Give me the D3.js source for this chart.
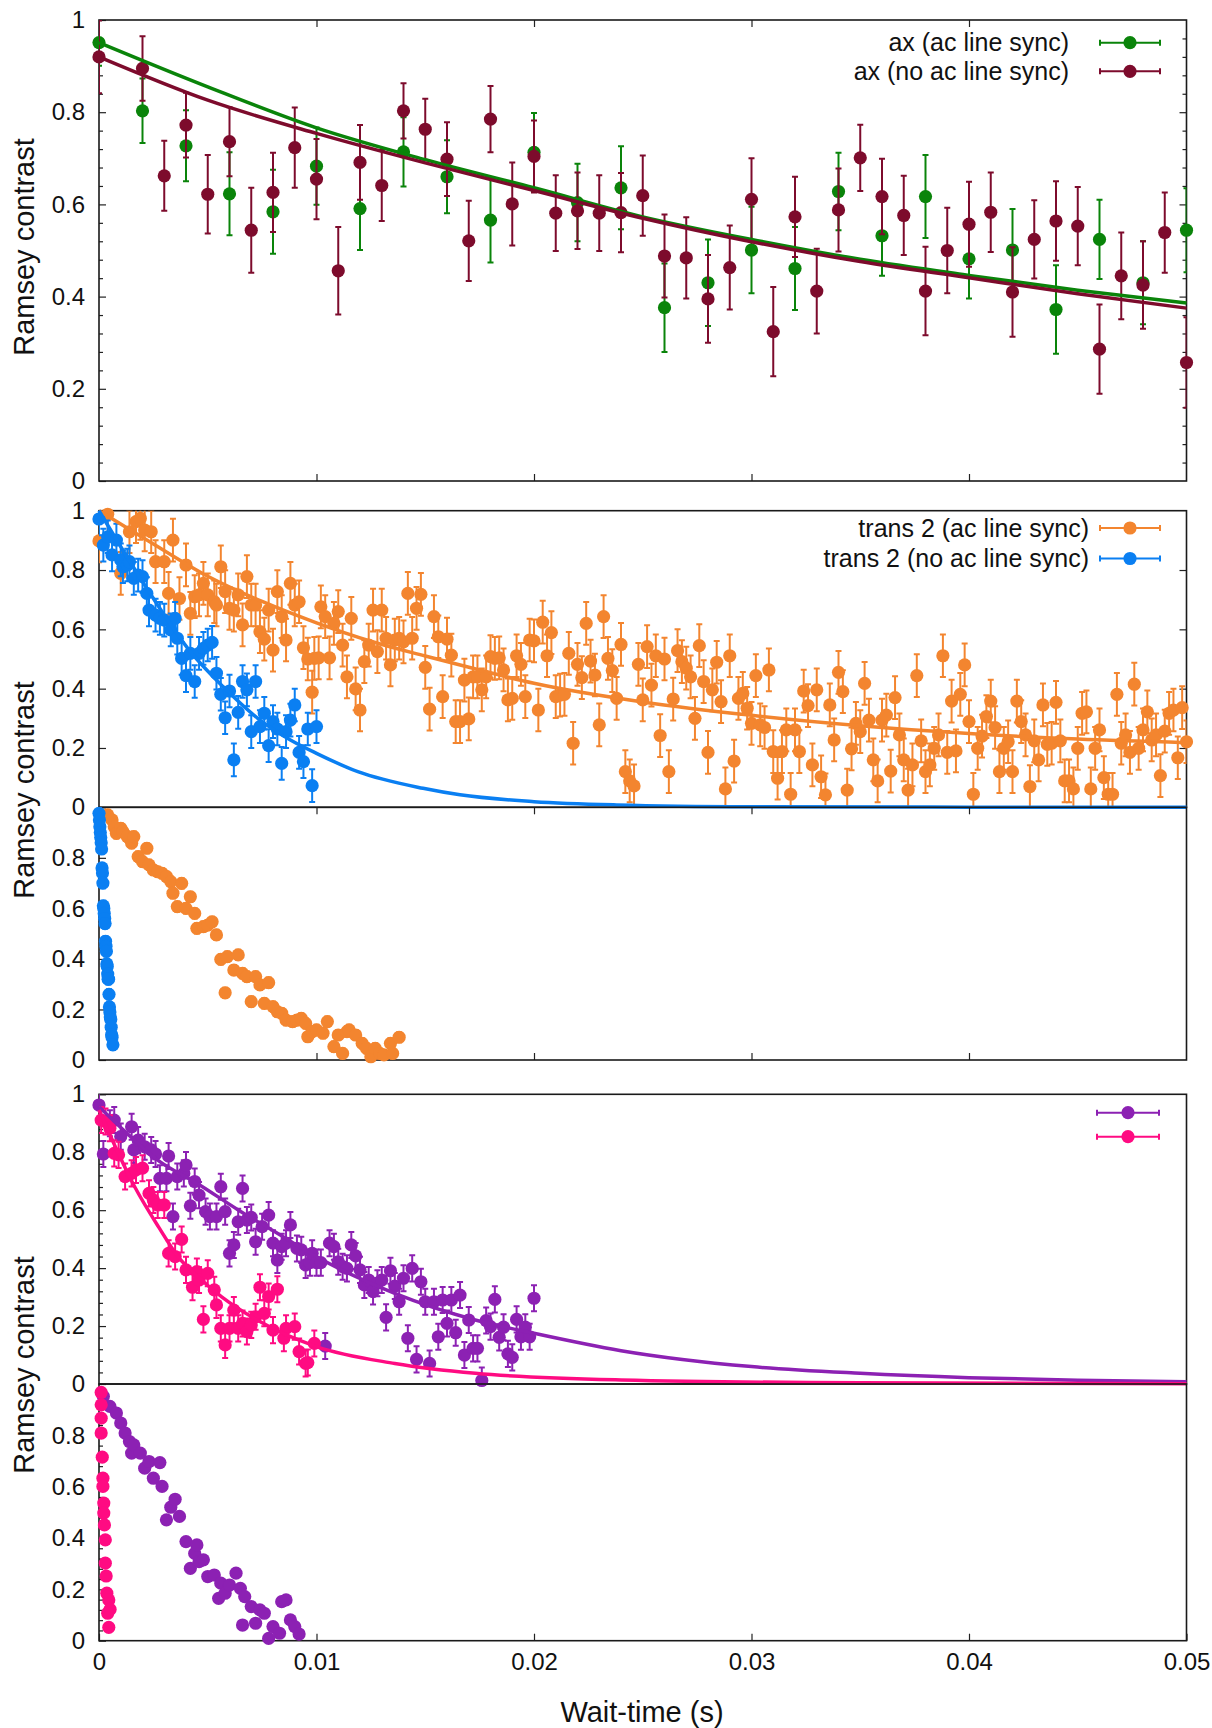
<!DOCTYPE html>
<html>
<head>
<meta charset="utf-8">
<script src="https://cdn.jsdelivr.net/npm/d3@7"></script>
<style>
  body { margin: 0; background: #fff; }
  text { font-family: "Liberation Sans", Arial, sans-serif; fill: #111; }
</style>
</head>
<body>
<svg id="chart"></svg>
<script>
// ---- axis ticks ----
const xTicks = [0, 0.01, 0.02, 0.03, 0.04, 0.05];
const yTicksFull = [0, 0.2, 0.4, 0.6, 0.8, 1];
const yTicksLower = [0, 0.2, 0.4, 0.6, 0.8];

// ---- panel 1: axial mode, [t, contrast, error] ----
const axSync = [[0,0.951,0.05],[0.002,0.803,0.07],[0.004,0.727,0.077],[0.006,0.623,0.09],[0.008,0.584,0.091],[0.010,0.683,0.084],[0.012,0.591,0.09],[0.014,0.714,0.075],[0.016,0.660,0.079],[0.018,0.566,0.092],[0.020,0.713,0.085],[0.022,0.604,0.084],[0.024,0.636,0.09],[0.026,0.376,0.096],[0.028,0.430,0.094],[0.030,0.501,0.094],[0.032,0.461,0.09],[0.034,0.628,0.084],[0.036,0.532,0.087],[0.038,0.617,0.09],[0.040,0.482,0.086],[0.042,0.501,0.089],[0.044,0.372,0.096],[0.046,0.524,0.086],[0.048,0.430,0.09],[0.050,0.544,0.091]];
const axNoSync = [[0,0.920,0.079],[0.002,0.895,0.07],[0.003,0.662,0.076],[0.004,0.772,0.07],[0.005,0.622,0.085],[0.006,0.736,0.075],[0.007,0.544,0.092],[0.008,0.626,0.086],[0.009,0.723,0.087],[0.010,0.655,0.087],[0.011,0.456,0.095],[0.012,0.691,0.081],[0.013,0.641,0.077],[0.014,0.803,0.06],[0.015,0.763,0.066],[0.016,0.698,0.08],[0.017,0.521,0.087],[0.018,0.785,0.072],[0.019,0.601,0.09],[0.020,0.704,0.078],[0.021,0.581,0.082],[0.022,0.586,0.083],[0.023,0.581,0.082],[0.024,0.582,0.086],[0.025,0.619,0.087],[0.026,0.488,0.09],[0.027,0.484,0.088],[0.028,0.395,0.095],[0.029,0.463,0.091],[0.030,0.611,0.089],[0.031,0.324,0.097],[0.032,0.573,0.087],[0.033,0.412,0.092],[0.034,0.588,0.09],[0.035,0.701,0.072],[0.036,0.617,0.082],[0.037,0.576,0.086],[0.038,0.412,0.096],[0.039,0.500,0.093],[0.040,0.557,0.092],[0.041,0.583,0.086],[0.042,0.410,0.097],[0.043,0.524,0.085],[0.044,0.564,0.086],[0.045,0.553,0.085],[0.046,0.286,0.097],[0.047,0.445,0.094],[0.048,0.425,0.095],[0.049,0.539,0.087],[0.050,0.257,0.098]];
const fitAxSync = [[0,0.951],[0.005,0.855],[0.01,0.766],[0.015,0.697],[0.02,0.636],[0.025,0.573],[0.03,0.524],[0.035,0.481],[0.04,0.446],[0.045,0.414],[0.05,0.386]];
const fitAxNoSync = [[0,0.920],[0.005,0.826],[0.01,0.754],[0.015,0.690],[0.02,0.630],[0.025,0.570],[0.03,0.519],[0.035,0.476],[0.04,0.441],[0.045,0.406],[0.05,0.375]];

// ---- panel 2: trans 2, [t, contrast] ----
const trSync = [[0.0000,0.898],[0.0004,0.988],[0.0010,0.789],[0.0014,0.929],[0.0017,0.963],[0.0019,0.974],[0.0021,0.935],[0.0024,0.929],[0.0026,0.828],[0.0030,0.828],[0.0032,0.721],[0.0034,0.901],[0.0037,0.704],[0.0040,0.817],[0.0042,0.654],[0.0044,0.710],[0.0046,0.716],[0.0048,0.755],[0.0050,0.716],[0.0053,0.693],[0.0054,0.682],[0.0056,0.811],[0.0058,0.727],[0.0060,0.671],[0.0062,0.665],[0.0064,0.716],[0.0066,0.615],[0.0068,0.778],[0.0070,0.682],[0.0072,0.682],[0.0074,0.592],[0.0076,0.567],[0.0078,0.665],[0.0080,0.530],[0.0082,0.727],[0.0084,0.643],[0.0086,0.564],[0.0088,0.755],[0.0090,0.682],[0.0092,0.693],[0.0094,0.538],[0.0096,0.500],[0.0098,0.388],[0.0099,0.502],[0.0101,0.504],[0.0102,0.676],[0.0104,0.643],[0.0106,0.504],[0.0108,0.620],[0.0110,0.660],[0.0112,0.547],[0.0114,0.440],[0.0116,0.637],[0.0118,0.399],[0.0120,0.328],[0.0122,0.491],[0.0124,0.547],[0.0126,0.665],[0.0128,0.525],[0.0130,0.665],[0.0132,0.570],[0.0134,0.480],[0.0136,0.564],[0.0138,0.570],[0.0140,0.558],[0.0142,0.721],[0.0144,0.570],[0.0146,0.671],[0.0148,0.718],[0.0150,0.472],[0.0152,0.331],[0.0154,0.643],[0.0156,0.575],[0.0158,0.373],[0.0160,0.567],[0.0162,0.513],[0.0164,0.289],[0.0166,0.289],[0.0168,0.429],[0.0170,0.298],[0.0172,0.440],[0.0174,0.440],[0.0176,0.396],[0.0178,0.440],[0.0180,0.508],[0.0182,0.502],[0.0184,0.504],[0.0186,0.463],[0.0188,0.362],[0.0190,0.367],[0.0192,0.511],[0.0194,0.482],[0.0196,0.373],[0.0198,0.564],[0.0200,0.561],[0.0202,0.328],[0.0204,0.624],[0.0206,0.511],[0.0208,0.589],[0.0210,0.373],[0.0212,0.378],[0.0214,0.381],[0.0216,0.519],[0.0218,0.216],[0.0220,0.482],[0.0222,0.437],[0.0224,0.620],[0.0226,0.493],[0.0228,0.446],[0.0230,0.278],[0.0232,0.643],[0.0234,0.502],[0.0236,0.461],[0.0238,0.367],[0.0240,0.549],[0.0242,0.120],[0.0244,0.089],[0.0246,0.072],[0.0248,0.482],[0.0250,0.362],[0.0252,0.542],[0.0254,0.412],[0.0256,0.511],[0.0258,0.242],[0.0260,0.500],[0.0262,0.120],[0.0264,0.365],[0.0266,0.528],[0.0268,0.491],[0.0270,0.469],[0.0272,0.440],[0.0274,0.300],[0.0276,0.545],[0.0278,0.424],[0.0280,0.185],[0.0282,0.396],[0.0284,0.489],[0.0286,0.356],[0.0288,0.062],[0.0290,0.511],[0.0292,0.156],[0.0294,0.367],[0.0296,0.384],[0.0298,0.334],[0.0300,0.283],[0.0302,0.444],[0.0304,0.278],[0.0306,0.269],[0.0308,0.463],[0.0310,0.188],[0.0312,0.098],[0.0314,0.188],[0.0316,0.261],[0.0318,0.044],[0.0320,0.261],[0.0322,0.188],[0.0324,0.392],[0.0326,0.343],[0.0328,0.143],[0.0330,0.396],[0.0332,0.103],[0.0334,0.042],[0.0336,0.345],[0.0338,0.227],[0.0340,0.455],[0.0342,0.390],[0.0344,0.058],[0.0346,0.197],[0.0348,0.283],[0.0350,0.255],[0.0352,0.418],[0.0354,0.294],[0.0356,0.160],[0.0358,0.089],[0.0360,0.294],[0.0362,0.311],[0.0364,0.122],[0.0366,0.370],[0.0368,0.244],[0.0370,0.160],[0.0372,0.058],[0.0374,0.143],[0.0376,0.444],[0.0378,0.224],[0.0380,0.120],[0.0382,0.143],[0.0384,0.199],[0.0386,0.244],[0.0388,0.511],[0.0390,0.185],[0.0392,0.358],[0.0394,0.190],[0.0396,0.381],[0.0398,0.480],[0.0400,0.289],[0.0402,0.044],[0.0404,0.199],[0.0406,0.240],[0.0408,0.306],[0.0410,0.358],[0.0412,0.269],[0.0414,0.120],[0.0416,0.199],[0.0418,0.221],[0.0420,0.120],[0.0422,0.358],[0.0424,0.289],[0.0426,0.244],[0.0428,0.070],[0.0430,0.224],[0.0432,0.160],[0.0434,0.345],[0.0436,0.212],[0.0438,0.216],[0.0440,0.354],[0.0442,0.224],[0.0444,0.089],[0.0446,0.089],[0.0448,0.062],[0.0450,0.199],[0.0452,0.317],[0.0454,0.322],[0.0456,0.062],[0.0458,0.199],[0.0460,0.261],[0.0462,0.100],[0.0464,0.044],[0.0466,0.044],[0.0468,0.381],[0.0470,0.216],[0.0472,0.244],[0.0474,0.185],[0.0476,0.415],[0.0478,0.199],[0.0480,0.261],[0.0482,0.322],[0.0484,0.227],[0.0486,0.244],[0.0488,0.107],[0.0490,0.257],[0.0492,0.317],[0.0494,0.328],[0.0496,0.167],[0.0498,0.336],[0.0500,0.221]];
const trNoSync = [[0.0000,0.972],[0.0002,0.884],[0.0004,0.912],[0.0006,0.851],[0.0008,0.901],[0.0010,0.834],[0.0011,0.811],[0.0013,0.817],[0.0014,0.828],[0.0016,0.772],[0.0018,0.783],[0.0020,0.778],[0.0022,0.721],[0.0023,0.665],[0.0026,0.648],[0.0028,0.637],[0.0030,0.631],[0.0033,0.598],[0.0035,0.637],[0.0036,0.570],[0.0038,0.502],[0.0040,0.444],[0.0042,0.519],[0.0044,0.424],[0.0046,0.519],[0.0048,0.536],[0.0050,0.547],[0.0052,0.556],[0.0054,0.452],[0.0056,0.381],[0.0058,0.302],[0.0060,0.392],[0.0062,0.160],[0.0064,0.320],[0.0066,0.424],[0.0068,0.396],[0.0070,0.255],[0.0072,0.424],[0.0074,0.272],[0.0076,0.317],[0.0078,0.208],[0.0080,0.289],[0.0082,0.264],[0.0084,0.148],[0.0086,0.255],[0.0088,0.294],[0.0090,0.345],[0.0092,0.185],[0.0094,0.154],[0.0096,0.264],[0.0098,0.073],[0.0100,0.272]];
const fitTrSync = [[0,1.0],[0.0025,0.888],[0.005,0.779],[0.0075,0.694],[0.01,0.622],[0.0125,0.560],[0.015,0.510],[0.0175,0.463],[0.02,0.418],[0.025,0.355],[0.03,0.310],[0.035,0.275],[0.04,0.249],[0.045,0.230],[0.05,0.218]];
const fitTrNoSync = [[0,1.0],[0.0022,0.738],[0.0042,0.525],[0.0057,0.407],[0.0073,0.300],[0.0088,0.227],[0.01,0.182],[0.0119,0.120],[0.0149,0.064],[0.0166,0.042],[0.02,0.019],[0.0238,0.008],[0.03,0.002],[0.04,0.0005],[0.05,0.0]];

// ---- panel 3: trans 2, second data set ----
const trSyncB = [[0.0004,0.970],[0.0006,0.950],[0.0007,0.923],[0.0008,0.897],[0.0010,0.917],[0.0011,0.904],[0.0013,0.884],[0.0015,0.858],[0.0016,0.884],[0.0018,0.805],[0.0020,0.785],[0.0022,0.838],[0.0023,0.772],[0.0025,0.752],[0.0027,0.745],[0.0029,0.739],[0.0031,0.726],[0.0033,0.706],[0.0034,0.660],[0.0036,0.607],[0.0038,0.699],[0.0040,0.600],[0.0042,0.646],[0.0044,0.580],[0.0045,0.521],[0.0048,0.528],[0.0050,0.534],[0.0052,0.547],[0.0054,0.495],[0.0056,0.398],[0.0058,0.266],[0.0059,0.409],[0.0062,0.356],[0.0064,0.416],[0.0066,0.343],[0.0068,0.330],[0.0070,0.231],[0.0072,0.330],[0.0074,0.297],[0.0076,0.224],[0.0078,0.306],[0.0080,0.211],[0.0082,0.191],[0.0084,0.185],[0.0086,0.158],[0.0089,0.152],[0.0091,0.158],[0.0093,0.165],[0.0095,0.145],[0.0096,0.092],[0.0098,0.112],[0.0100,0.119],[0.0103,0.106],[0.0105,0.152],[0.0108,0.053],[0.0110,0.099],[0.0112,0.026],[0.0114,0.112],[0.0115,0.119],[0.0118,0.099],[0.0121,0.066],[0.0123,0.046],[0.0125,0.013],[0.0127,0.046],[0.0129,0.026],[0.0131,0.020],[0.0134,0.066],[0.0135,0.026],[0.0138,0.090]];
const trNoSyncB = [[0.00000,0.976],[0.00002,0.950],[0.00004,0.923],[0.00006,0.900],[0.00008,0.880],[0.00010,0.860],[0.00012,0.835],[0.00014,0.760],[0.00016,0.740],[0.00018,0.700],[0.00020,0.610],[0.00022,0.600],[0.00024,0.580],[0.00026,0.560],[0.00028,0.540],[0.00030,0.470],[0.00032,0.450],[0.00034,0.430],[0.00036,0.380],[0.00038,0.370],[0.00040,0.340],[0.00042,0.320],[0.00044,0.320],[0.00046,0.260],[0.00048,0.210],[0.00050,0.190],[0.00052,0.170],[0.00054,0.160],[0.00056,0.130],[0.00058,0.100],[0.00060,0.090],[0.00064,0.060]];

// ---- panel 4: purple / pink ----
const purple4 = [[0.0000,0.963],[0.0002,0.794],[0.0005,0.900],[0.0007,0.911],[0.0010,0.854],[0.0015,0.888],[0.0016,0.808],[0.0018,0.842],[0.0021,0.819],[0.0024,0.808],[0.0026,0.794],[0.0028,0.710],[0.0031,0.710],[0.0032,0.787],[0.0034,0.578],[0.0036,0.716],[0.0039,0.727],[0.0040,0.756],[0.0042,0.615],[0.0044,0.699],[0.0046,0.652],[0.0049,0.595],[0.0051,0.578],[0.0054,0.578],[0.0056,0.681],[0.0058,0.595],[0.0060,0.451],[0.0062,0.480],[0.0064,0.560],[0.0066,0.675],[0.0068,0.566],[0.0070,0.575],[0.0072,0.491],[0.0075,0.543],[0.0078,0.583],[0.0080,0.486],[0.0082,0.428],[0.0084,0.474],[0.0086,0.486],[0.0088,0.549],[0.0091,0.468],[0.0093,0.463],[0.0095,0.411],[0.0097,0.419],[0.0098,0.451],[0.0100,0.419],[0.0102,0.419],[0.0104,0.131],[0.0106,0.486],[0.0108,0.474],[0.0110,0.422],[0.0112,0.405],[0.0114,0.399],[0.0116,0.480],[0.0118,0.442],[0.0120,0.394],[0.0122,0.342],[0.0124,0.359],[0.0126,0.319],[0.0128,0.348],[0.0130,0.359],[0.0132,0.230],[0.0134,0.391],[0.0136,0.338],[0.0138,0.284],[0.0140,0.365],[0.0142,0.158],[0.0144,0.399],[0.0146,0.085],[0.0148,0.353],[0.0150,0.284],[0.0152,0.071],[0.0154,0.284],[0.0156,0.163],[0.0158,0.290],[0.0160,0.209],[0.0162,0.290],[0.0164,0.177],[0.0166,0.307],[0.0168,0.100],[0.0170,0.221],[0.0172,0.123],[0.0174,0.123],[0.0176,0.012],[0.0178,0.219],[0.0180,0.198],[0.0182,0.292],[0.0184,0.161],[0.0186,0.196],[0.0188,0.104],[0.0190,0.092],[0.0192,0.223],[0.0194,0.163],[0.0196,0.196],[0.0198,0.163],[0.0200,0.296]];
const pink4 = [[0.0001,0.911],[0.0003,0.906],[0.0005,0.883],[0.0007,0.796],[0.0009,0.791],[0.0012,0.716],[0.0015,0.727],[0.0017,0.739],[0.0020,0.745],[0.0023,0.658],[0.0025,0.635],[0.0027,0.618],[0.0030,0.618],[0.0032,0.451],[0.0035,0.440],[0.0038,0.499],[0.0040,0.394],[0.0043,0.334],[0.0045,0.388],[0.0046,0.359],[0.0048,0.223],[0.0050,0.382],[0.0053,0.325],[0.0054,0.273],[0.0056,0.192],[0.0058,0.135],[0.0060,0.192],[0.0062,0.255],[0.0064,0.192],[0.0066,0.209],[0.0068,0.181],[0.0070,0.204],[0.0072,0.232],[0.0074,0.334],[0.0076,0.244],[0.0078,0.302],[0.0080,0.186],[0.0082,0.327],[0.0085,0.158],[0.0086,0.192],[0.0090,0.198],[0.0092,0.112],[0.0095,0.071],[0.0096,0.074],[0.0099,0.140]];
const fitPurple = [[0,0.957],[0.00145,0.854],[0.0027,0.773],[0.0045,0.693],[0.0064,0.601],[0.0082,0.520],[0.01,0.439],[0.0136,0.313],[0.0173,0.221],[0.02,0.175],[0.024,0.115],[0.03,0.060],[0.035,0.037],[0.04,0.022],[0.045,0.013],[0.05,0.008]];
const fitPink = [[0,0.946],[0.00164,0.681],[0.00273,0.543],[0.00364,0.439],[0.00455,0.370],[0.00564,0.301],[0.00727,0.221],[0.01,0.129],[0.0136,0.071],[0.0173,0.037],[0.024,0.014],[0.035,0.004],[0.05,0.001]];

// ---- panel 5: purple / pink, second data set ----
const purple5 = [[0.0002,0.952],[0.0005,0.913],[0.0008,0.887],[0.0010,0.848],[0.0012,0.809],[0.0014,0.776],[0.0015,0.731],[0.0016,0.763],[0.0019,0.731],[0.0021,0.672],[0.0023,0.698],[0.0025,0.633],[0.0028,0.694],[0.0029,0.601],[0.0031,0.471],[0.0033,0.520],[0.0035,0.551],[0.0037,0.484],[0.0040,0.386],[0.0042,0.282],[0.0044,0.340],[0.0045,0.373],[0.0046,0.308],[0.0048,0.315],[0.0050,0.250],[0.0053,0.256],[0.0055,0.165],[0.0056,0.224],[0.0058,0.185],[0.0060,0.217],[0.0063,0.263],[0.0065,0.204],[0.0066,0.061],[0.0067,0.172],[0.0070,0.133],[0.0072,0.068],[0.0074,0.120],[0.0076,0.107],[0.0078,0.009],[0.0080,0.055],[0.0083,0.029],[0.0084,0.152],[0.0086,0.159],[0.0088,0.081],[0.0090,0.055],[0.0092,0.026]];
const pink5 = [[0.00010,0.967],[0.00010,0.919],[0.00010,0.867],[0.00010,0.809],[0.00015,0.715],[0.00018,0.633],[0.00018,0.601],[0.00022,0.536],[0.00022,0.497],[0.00025,0.451],[0.00029,0.393],[0.00029,0.302],[0.00033,0.252],[0.00036,0.185],[0.00045,0.159],[0.00051,0.122],[0.00040,0.107],[0.00045,0.052]];

const C = {
  green: "#0a840a", maroon: "#7d0b2c", orange: "#f3852f",
  blue: "#0a7ff2", purple: "#8c21b3", pink: "#ff0b82"
};

const panels = [
  { top: 20, bottom: 481, labels: yTicksFull, minor: true, right: true, rightMinor: true, topTicks: true, bottomTicks: true,
    series: [{ data: axSync, color: C.green }, { data: axNoSync, color: C.maroon }],
    fits: [{ data: fitAxSync, color: C.green }, { data: fitAxNoSync, color: C.maroon }],
    legend: { textX: 1069, lineX: [1100, 1160], y0: 42.7, dy: 28.6,
      items: [{ label: "ax (ac line sync)", color: C.green }, { label: "ax (no ac line sync)", color: C.maroon }] } },
  { top: 510.7, bottom: 807.3, labels: yTicksFull, minor: false, right: true,
    series: [{ data: trSync, color: C.orange, err: 0.072 }, { data: trNoSync, color: C.blue, err: 0.055 }],
    fits: [{ data: fitTrSync, color: C.orange }, { data: fitTrNoSync, color: C.blue }],
    legend: { textX: 1089, lineX: [1100, 1160], y0: 528, dy: 30.5,
      items: [{ label: "trans 2 (ac line sync)", color: C.orange }, { label: "trans 2 (no ac line sync)", color: C.blue }] } },
  { top: 807.3, bottom: 1060, labels: yTicksLower, minor: false, topTicks: true, bottomTicks: true,
    series: [{ data: trSyncB, color: C.orange, err: 0.02 }, { data: trNoSyncB, color: C.blue, err: 0.02 }],
    fits: [] },
  { top: 1094.3, bottom: 1384, labels: yTicksFull, minor: true,
    series: [{ data: purple4, color: C.purple, err: 0.045 }, { data: pink4, color: C.pink, err: 0.045 }],
    fits: [{ data: fitPurple, color: C.purple }, { data: fitPink, color: C.pink }],
    legend: { textX: 1089, lineX: [1097, 1159], y0: 1112.7, dy: 24,
      items: [{ label: "", color: C.purple }, { label: "", color: C.pink }] } },
  { top: 1384, bottom: 1640.7, labels: yTicksLower, minor: true, bottomTicks: true, xLabels: true,
    series: [{ data: purple5, color: C.purple, err: 0.015 }, { data: pink5, color: C.pink, err: 0.015 }],
    fits: [] }
];

const svg = d3.select("#chart").attr("width", 1212).attr("height", 1728);
const x = d3.scaleLinear().domain([0, 0.05]).range([99, 1186.5]);
const R = 6.6, CAP = 3;
const TICK_FONT = 24;

function styleAxis(g) {
  g.attr("font-family", null).attr("font-size", null);
  g.selectAll("text").style("font-size", TICK_FONT + "px").attr("fill", "#111");
  g.selectAll("line").attr("stroke", "#222").attr("stroke-width", 1.2);
  g.select(".domain").remove();
}

const isMajor = v => Math.abs(v / 0.2 - Math.round(v / 0.2)) < 1e-6;
const minorVals = d3.range(0, 1.0001, 0.04).filter(v => !isMajor(v));

panels.forEach((p, i) => {
  const y = d3.scaleLinear().domain([0, 1]).range([p.bottom, p.top]);
  const g = svg.append("g");
  const clipId = "clip" + i;
  svg.append("clipPath").attr("id", clipId).append("rect")
    .attr("x", x(0)).attr("y", p.top).attr("width", x(0.05) - x(0)).attr("height", p.bottom - p.top);

  // y ticks and labels
  g.append("g").attr("transform", `translate(${x(0)},0)`)
    .call(d3.axisLeft(y).tickValues(p.labels).tickSizeInner(-7).tickSizeOuter(0).tickPadding(14).tickFormat(d3.format("")))
    .call(styleAxis);
  if (p.minor) {
    g.append("g").attr("transform", `translate(${x(0)},0)`)
      .call(d3.axisLeft(y).tickValues(minorVals).tickSizeInner(-4).tickSizeOuter(0).tickFormat(""))
      .call(styleAxis);
  }
  if (p.right) {
    g.append("g").attr("transform", `translate(${x(0.05)},0)`)
      .call(d3.axisRight(y).tickValues(yTicksFull.slice(1, 5)).tickSizeInner(-7).tickSizeOuter(0).tickFormat(""))
      .call(styleAxis);
    if (p.rightMinor) {
      g.append("g").attr("transform", `translate(${x(0.05)},0)`)
        .call(d3.axisRight(y).tickValues(minorVals).tickSizeInner(-4).tickSizeOuter(0).tickFormat(""))
        .call(styleAxis);
    }
  }
  if (p.topTicks) {
    g.append("g").attr("transform", `translate(0,${p.top})`)
      .call(d3.axisTop(x).tickValues(xTicks.slice(1, 5)).tickSizeInner(-7).tickSizeOuter(0).tickFormat(""))
      .call(styleAxis);
  }
  if (p.bottomTicks) {
    g.append("g").attr("transform", `translate(0,${p.bottom})`)
      .call(d3.axisBottom(x).tickValues(p.xLabels ? xTicks : xTicks.slice(1, 5)).tickSizeInner(-7).tickSizeOuter(0).tickPadding(12)
        .tickFormat(p.xLabels ? d3.format("") : ""))
      .call(styleAxis);
  }

  // frame
  g.append("rect")
    .attr("x", x(0)).attr("y", p.top).attr("width", x(0.05) - x(0)).attr("height", p.bottom - p.top)
    .attr("fill", "none").attr("stroke", "#1a1a1a").attr("stroke-width", 1.6);

  // data: error bars (clipped) then points
  p.series.forEach(s => {
    const sg = g.append("g");
    sg.append("g").attr("clip-path", `url(#${clipId})`)
      .selectAll("path").data(s.data).join("path")
      .attr("d", d => {
        const e = d[2] !== undefined ? d[2] : s.err;
        const cx = x(d[0]), y1 = y(d[1] + e), y2 = y(d[1] - e);
        return `M${cx},${y1}V${y2}M${cx - CAP},${y1}H${cx + CAP}M${cx - CAP},${y2}H${cx + CAP}`;
      })
      .attr("fill", "none").attr("stroke", s.color).attr("stroke-width", 2);
    sg.append("g").selectAll("circle").data(s.data).join("circle")
      .attr("cx", d => x(d[0])).attr("cy", d => y(d[1])).attr("r", R)
      .attr("fill", s.color);
  });

  // fit curves
  const line = d3.line().x(d => x(d[0])).y(d => y(d[1])).curve(d3.curveMonotoneX);
  p.fits.forEach(f => {
    g.append("path").datum(f.data).attr("d", line)
      .attr("fill", "none").attr("stroke", f.color).attr("stroke-width", 3.5);
  });

  // legend
  if (p.legend) {
    const L = p.legend;
    const lg = g.append("g").selectAll("g").data(L.items).join("g")
      .attr("transform", (d, k) => `translate(0,${L.y0 + k * L.dy})`);
    lg.append("text").attr("x", L.textX).attr("y", 0).attr("dy", "0.35em")
      .attr("text-anchor", "end").style("font-size", "25px").text(d => d.label);
    lg.append("path")
      .attr("d", `M${L.lineX[0]},0H${L.lineX[1]}M${L.lineX[0]},${-CAP}V${CAP}M${L.lineX[1]},${-CAP}V${CAP}`)
      .attr("fill", "none").attr("stroke", d => d.color).attr("stroke-width", 2);
    lg.append("circle").attr("cx", (L.lineX[0] + L.lineX[1]) / 2).attr("cy", 0).attr("r", R)
      .attr("fill", d => d.color);
  }
});

// axis titles
[[247, "Ramsey contrast"], [790, "Ramsey contrast"], [1365, "Ramsey contrast"]].forEach(([cy, t]) => {
  svg.append("text").attr("transform", `translate(34,${cy}) rotate(-90)`)
    .attr("text-anchor", "middle").style("font-size", "29px").text(t);
});
svg.append("text").attr("x", 642).attr("y", 1722).attr("text-anchor", "middle")
  .style("font-size", "29px").text("Wait-time (s)");
</script>
</body>
</html>
